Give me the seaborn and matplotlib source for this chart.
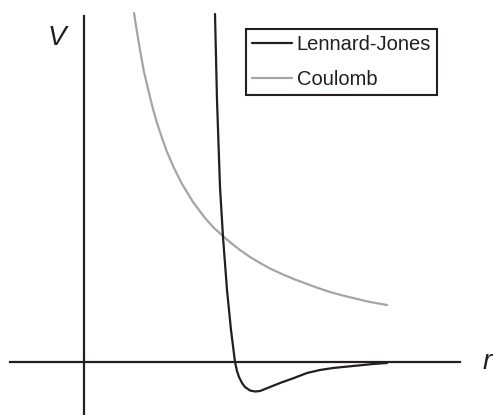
import matplotlib
matplotlib.use("Agg")
import matplotlib.pyplot as plt
import seaborn as sns
import pandas as pd

# Sampled potential curves (separation r, potential V), arbitrary units
lj_r = [1.31, 1.33, 1.36, 1.39, 1.43, 1.47, 1.51, 1.53, 1.55, 1.58, 1.61,
        1.66, 1.71, 1.76, 1.86, 1.96, 2.10, 2.23, 2.36, 2.49, 2.69, 2.89, 3.03]
lj_v = [3.48, 2.62, 1.75, 1.25, 0.72, 0.32, 0.00, -0.09, -0.15, -0.21, -0.25,
        -0.285, -0.295, -0.29, -0.25, -0.21, -0.16, -0.11, -0.08, -0.06, -0.04,
        -0.02, -0.01]

coul_r = [0.50, 0.53, 0.56, 0.60, 0.66, 0.69, 0.73, 0.78, 0.83, 0.90, 0.98,
          1.09, 1.21, 1.30, 1.39, 1.47, 1.56, 1.66, 1.76, 1.87, 1.99, 2.11,
          2.23, 2.34, 2.46, 2.57, 2.69, 2.86, 3.03]
coul_v = [3.49, 3.30, 3.12, 2.90, 2.65, 2.53, 2.39, 2.24, 2.10, 1.94, 1.78,
          1.60, 1.44, 1.34, 1.26, 1.19, 1.12, 1.05, 0.99, 0.93, 0.875, 0.825,
          0.78, 0.74, 0.70, 0.67, 0.64, 0.60, 0.57]

series_names = ["Lennard-Jones", "Coulomb"]

sns.set_style("white")
plt.rcParams["font.family"] = ["Liberation Sans", "DejaVu Sans"]

lj = pd.DataFrame({"r": lj_r, "V": lj_v})
coul = pd.DataFrame({"r": coul_r, "V": coul_v})

fig = plt.figure(figsize=(4.94, 4.15), dpi=100)
ax = fig.add_axes([0, 0, 1, 1])

axis_col = "#231f20"
sns.lineplot(data=coul, x="r", y="V", ax=ax, color="#a5a5a5", lw=1.6,
             estimator=None, label=series_names[1])
sns.lineplot(data=lj, x="r", y="V", ax=ax, color=axis_col, lw=1.6,
             estimator=None, label=series_names[0])

ax.set_xlim(-0.84, 4.10)
ax.set_ylim(-0.53, 3.62)

# Crossed axes through the origin
for side in ("top", "right"):
    ax.spines[side].set_visible(False)
ax.spines["left"].set_position(("data", 0))
ax.spines["bottom"].set_position(("data", 0))
ax.spines["left"].set_bounds(-0.52, 3.46)
ax.spines["bottom"].set_bounds(-0.74, 3.76)
for side in ("left", "bottom"):
    ax.spines[side].set_color(axis_col)
    ax.spines[side].set_linewidth(1.6)
ax.set_xticks([])
ax.set_yticks([])
ax.set_xlabel("")
ax.set_ylabel("")

ax.text(-0.27, 3.24, "V", fontsize=20, style="italic", ha="center", va="center",
        color=axis_col)
ax.text(4.08, 0.0, "r", fontsize=20, style="italic", ha="right", va="center",
        color=axis_col)

handles, labels = ax.get_legend_handles_labels()
order = [labels.index(n) for n in series_names]
leg = ax.legend([handles[i] for i in order], [labels[i] for i in order],
                loc="upper right", bbox_to_anchor=(437 / 494, 1 - 29 / 415),
                bbox_transform=fig.transFigure, borderaxespad=0,
                fontsize=14.5, handlelength=1.95, handletextpad=0.25,
                labelspacing=0.8, borderpad=0.3, fancybox=False,
                frameon=True)
frame = leg.get_frame()
frame.set_edgecolor(axis_col)
frame.set_linewidth(1.5)
frame.set_alpha(1)
for t in leg.get_texts():
    t.set_color(axis_col)

fig.savefig("out.png", dpi=100)
